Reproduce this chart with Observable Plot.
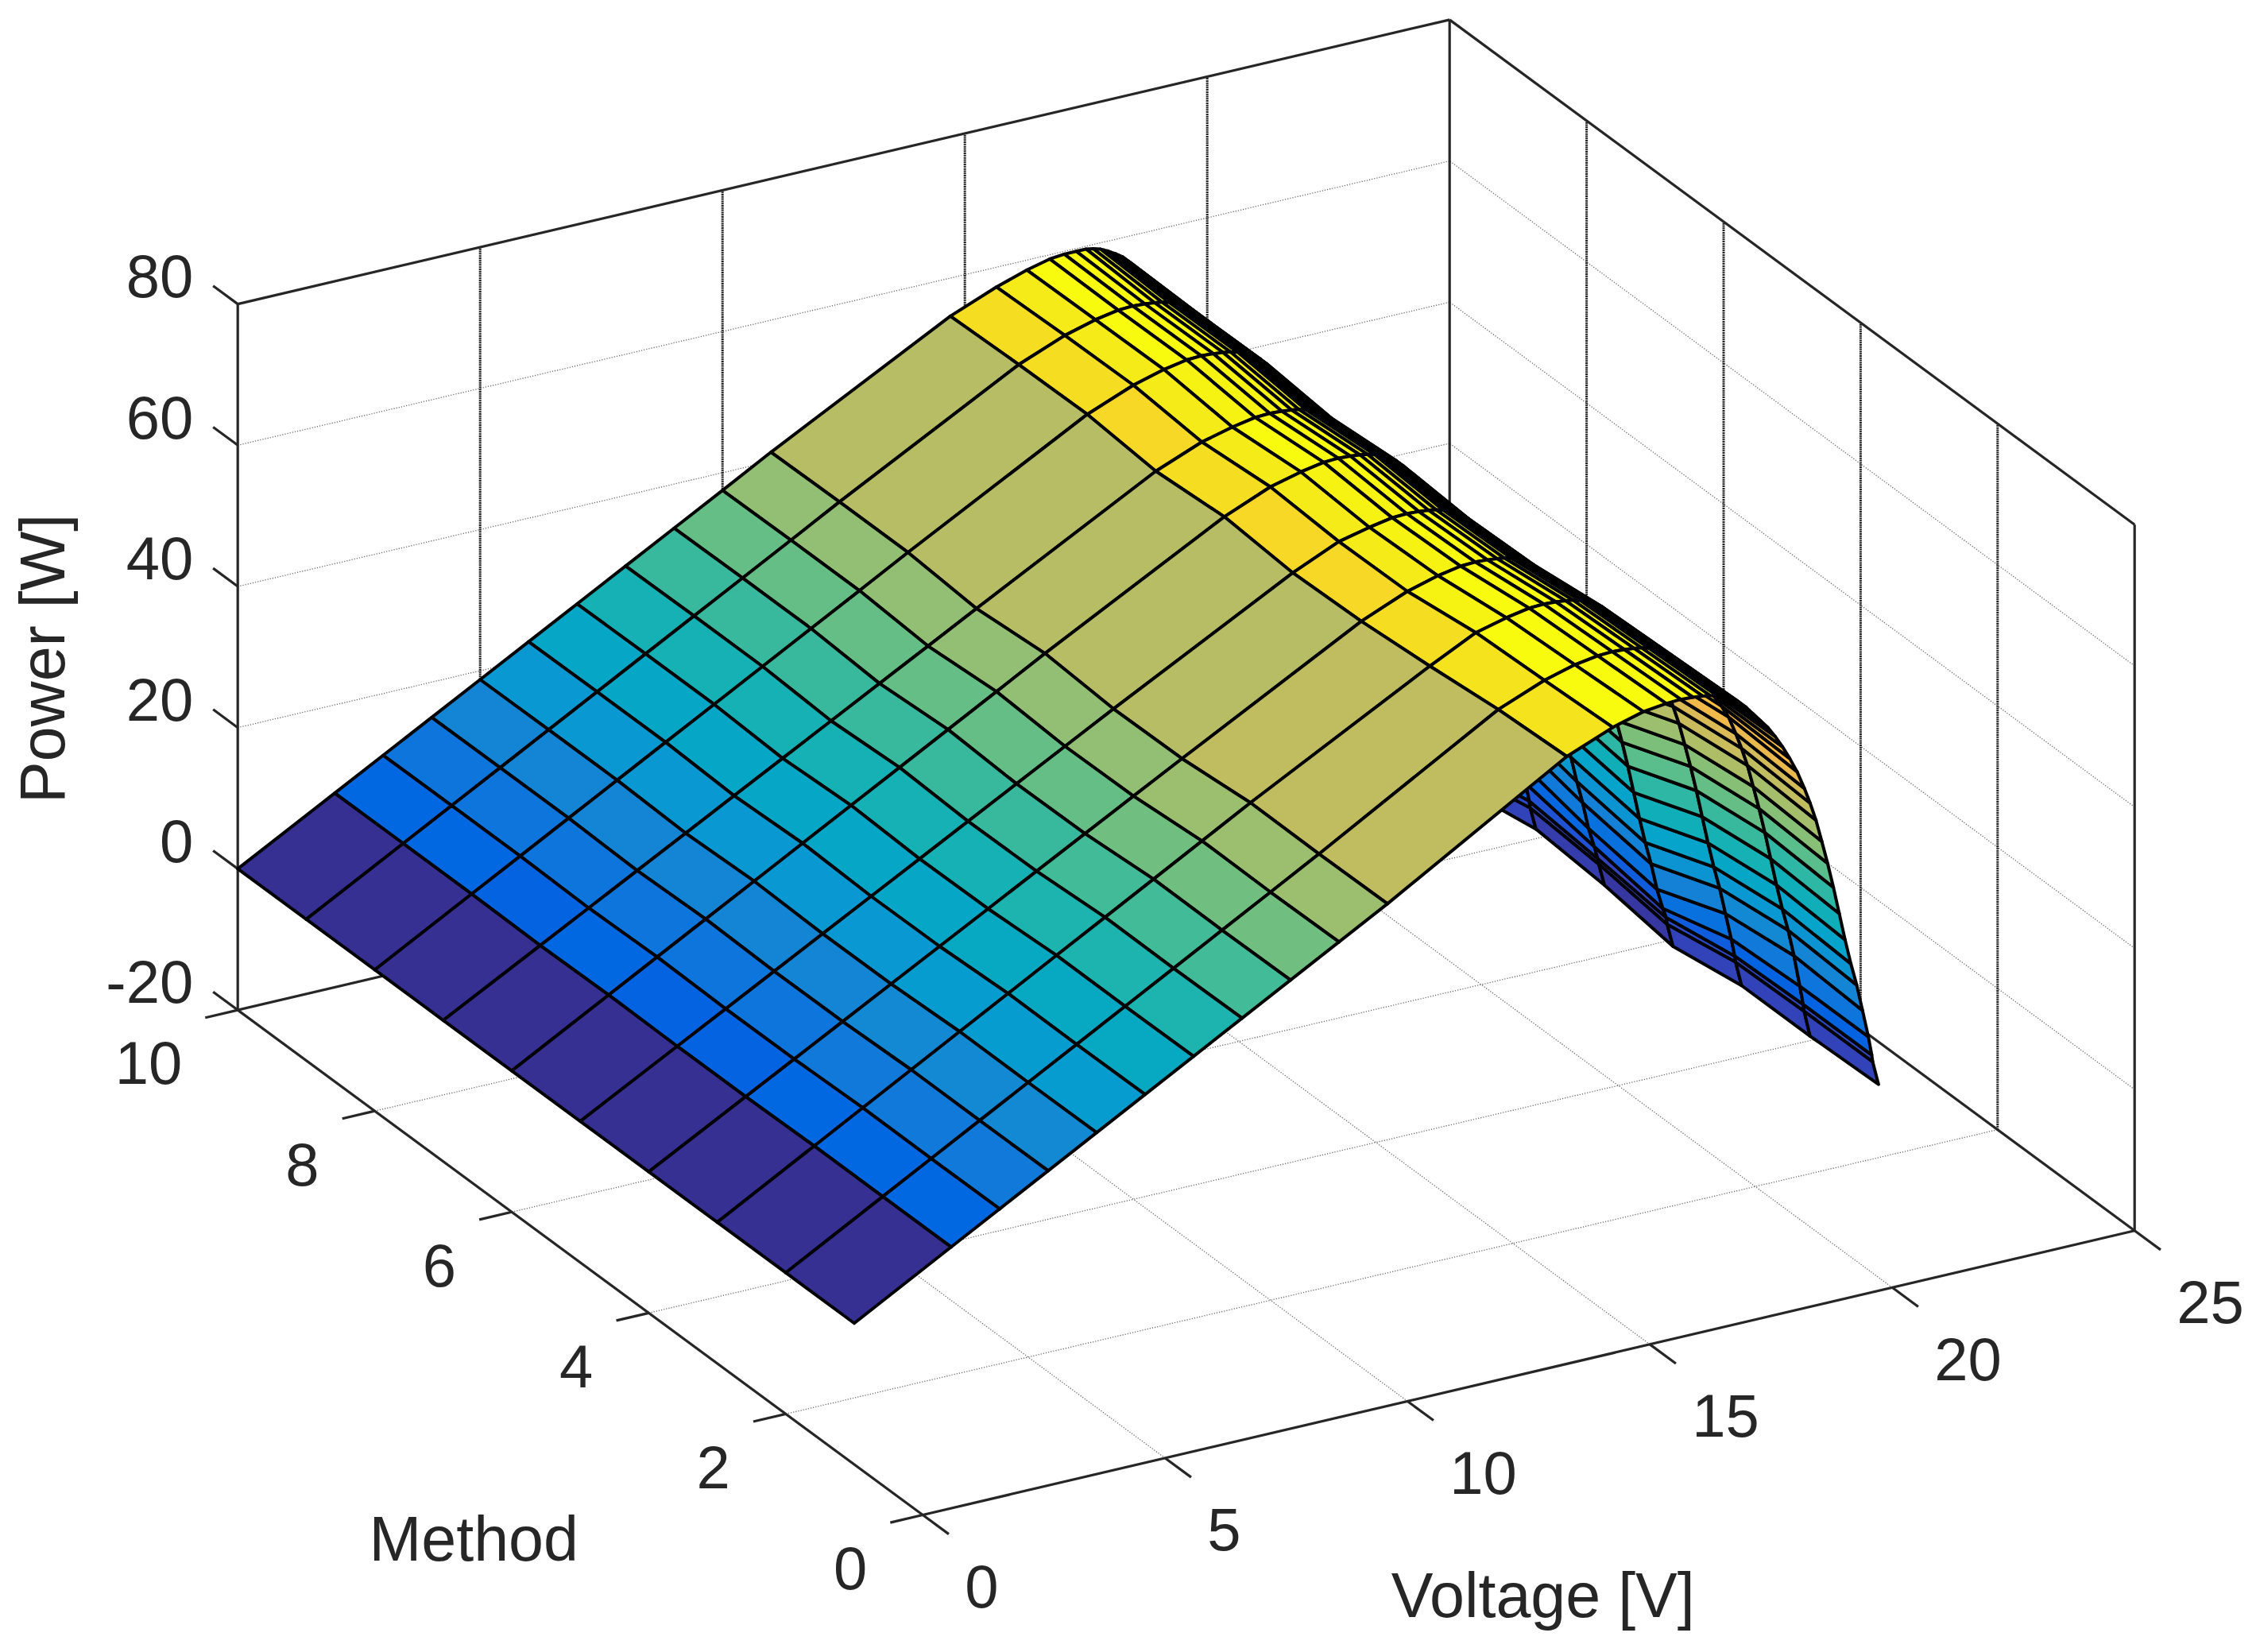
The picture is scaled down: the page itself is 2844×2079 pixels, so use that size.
<!DOCTYPE html>
<html><head><meta charset="utf-8">
<style>html,body{margin:0;padding:0;background:#fff}svg{display:block}</style>
<script src="https://cdn.jsdelivr.net/npm/d3@7"></script>
<script src="https://cdn.jsdelivr.net/npm/@observablehq/plot@0.6"></script>
</head><body><div id="chart"></div>
<script>
const voltages = [0,2,3,4,5,6,7,8,9,10,11,14.7,15.65,16.28,16.75,17.05,17.3,17.5,17.65,17.8,17.87,17.95,18.02,18.1,18.17,18.25,18.32,18.4,18.47,18.55,18.7,18.85,19,19.15,19.3,19.45,19.6,19.72,19.84,19.96,20.08,20.2,20.32,20.44,20.56,20.68,20.8,20.92,20.99,21.01,21.13];
const methods = [1,2,3,4,5,6,7,8,9,10];
const power1 = [0,7.58,11.37,15.16,18.95,22.74,26.53,30.32,34.11,37.9,41.7,56.6,59.2,60.4,60.8,60.9,60.8,60.65,60.5,60.2,60,59.8,59.55,59.3,58.95,58.6,58.1,57.6,57,56.4,55.2,54,52.5,50.8,48.9,46.8,44.2,41.9,39.3,36.1,32.8,29.2,25.3,21.4,17.8,14.6,10.8,6.9,4.2,3.2,-0.2];
const power2 = [0,7.56,11.34,15.12,18.9,22.68,26.46,30.24,34.02,37.8,41.6,56.1,58.7,59.9,60.4,60.5,60.4,60.25,60.1,59.8,59.6,59.4,59.15,58.9,58.55,58.2,57.7,57.2,56.6,56,54.8,53.6,52.3,50.8,49.2,47.4,44.8,42.5,39.9,36.7,33.4,29.8,25.9,22,18.4,15.2,11.4,6.9,4.2,3.2,-0.5];
const power3 = [0,7.58,11.37,15.16,18.95,22.74,26.53,30.32,34.11,37.9,41.7,55.1,58.3,59.4,60,60.1,60,59.85,59.7,59.4,59.2,59,58.75,58.5,58.15,57.8,57.3,56.8,56.2,55.6,54.4,53.2,51.8,50.1,48.3,46.2,43.6,41.3,38.7,35.5,32.2,28.6,24.7,20.8,17.2,14,10.2,6.4,3.9,3,-0.5];
const power4 = [0,7.42,11.13,14.84,18.55,22.26,25.97,29.68,33.39,37.1,40.8,54.3,57,58.2,58.8,58.9,58.8,58.65,58.5,58.2,58,57.8,57.55,57.3,56.95,56.6,56.1,55.6,55,54.4,53.2,52,50,47.9,45.7,42.5,39.9,37.6,35,31.8,28.5,24.9,21,17.1,13.5,10.3,6.5,3.6,2.2,1.2,-2.1];
const power5 = [0,7.4,11.1,14.8,18.5,22.2,25.9,29.6,33.3,37,40.7,54,56.9,57.9,58.5,58.6,58.5,58.35,58.2,57.9,57.7,57.5,57.25,57,56.65,56.3,55.8,55.3,54.7,54.1,52.9,51.7,50.1,48.3,46.3,44,41.4,39.1,36.5,33.3,30,26.4,22.5,18.6,15,11.8,8,5.2,3.4,2.6,-0.6];
const power6 = [0,7.52,11.28,15.04,18.8,22.56,26.32,30.08,33.84,37.6,41.4,54.8,57.5,58.6,59.2,59.3,59.2,59.05,58.9,58.6,58.4,58.2,57.95,57.7,57.35,57,56.5,56,55.4,54.8,53.6,52.4,51.1,49.6,48,46.3,43.7,41.4,38.8,35.6,32.3,28.7,24.8,20.9,17.3,14.1,10.3,7,4.4,3.4,0.2];
const power7 = [0,7.38,11.07,14.76,18.45,22.14,25.83,29.52,33.21,36.9,40.6,54.1,56.7,57.8,58.4,58.5,58.4,58.25,58.1,57.8,57.6,57.4,57.15,56.9,56.55,56.2,55.7,55.2,54.6,54,52.8,51.6,49.8,47.9,45.6,42.8,40.2,37.9,35.3,32.1,28.8,25.2,21.3,17.4,13.8,10.6,6.8,4,2.4,1.4,-1.5];
const power8 = [0,7.52,11.28,15.04,18.8,22.56,26.32,30.08,33.84,37.6,41.4,55,57.6,58.8,59.4,59.5,59.4,59.25,59.1,58.8,58.6,58.4,58.15,57.9,57.55,57.2,56.7,56.2,55.6,55,53.8,52.6,51.2,49.6,47.9,45.8,43.2,40.9,38.3,35.1,31.8,28.2,24.3,20.4,16.8,13.6,9.8,6,3.8,2.8,-0.2];
const power9 = [0,7.52,11.28,15.04,18.8,22.56,26.32,30.08,33.84,37.6,41.4,54.9,57.5,58.7,59.3,59.4,59.3,59.15,59,58.7,58.5,58.3,58.05,57.8,57.45,57.1,56.6,56.1,55.5,54.9,53.7,52.5,51.1,49.5,47.9,45.8,43.2,40.9,38.3,35.1,31.8,28.2,24.3,20.4,16.8,13.6,9.8,6,3.8,2.8,-0.2];
const power10 = [0,7.5,11.25,15,18.75,22.5,26.25,30,33.75,37.5,41.3,54.6,57.2,58.6,59.4,59.6,59.6,59.6,59.4,59.1,58.85,58.6,58.3,58,57.65,57.3,56.8,56.3,55.7,55.1,53.9,52.7,51.2,49.5,47.5,45.3,42.7,40.4,37.8,34.6,31.3,27.7,23.8,19.9,16.3,13.1,9.3,5.6,3.6,2.6,-0.3];
const powerRows = [power1,power2,power3,power4,power5,power6,power7,power8,power9,power10];
const voltageTicks = [0,5,10,15,20,25];
const methodTicks = [0,2,4,6,8,10];
const powerTicks = [-20,0,20,40,60,80];
const parula = [[.2081,.1663,.5292],[.2116,.1898,.5777],[.2123,.2138,.627],[.2081,.2386,.6771],[.1959,.2645,.7279],[.1707,.2919,.7792],[.1253,.3242,.8303],[.0591,.3598,.8683],[.0117,.3875,.882],[.006,.4086,.8828],[.0165,.4266,.8786],[.0329,.443,.872],[.0498,.4586,.8641],[.0629,.4737,.8554],[.0723,.4887,.8467],[.0779,.504,.8384],[.0793,.52,.8312],[.0749,.5375,.8263],[.0641,.557,.824],[.0488,.5772,.8228],[.0343,.5966,.8199],[.0265,.6137,.8135],[.0239,.6287,.8038],[.0231,.6418,.7913],[.0228,.6535,.7768],[.0267,.6642,.7607],[.0384,.6743,.7436],[.059,.6838,.7254],[.0843,.6928,.7062],[.1133,.7015,.6859],[.1453,.7098,.6646],[.1801,.7177,.6424],[.2178,.725,.6193],[.2586,.7317,.5954],[.3022,.7376,.5712],[.3482,.7424,.5473],[.3953,.7459,.5244],[.442,.7481,.5033],[.4871,.7491,.484],[.53,.7491,.4661],[.5709,.7485,.4494],[.6099,.7473,.4337],[.6473,.7456,.4188],[.6834,.7435,.4044],[.7184,.7411,.3905],[.7525,.7384,.3768],[.7858,.7356,.3633],[.8185,.7327,.3498],[.8507,.7299,.336],[.8824,.7274,.3217],[.9139,.7258,.3063],[.945,.7261,.2886],[.9739,.7314,.2666],[.9938,.7455,.2403],[.999,.7653,.2164],[.9955,.7861,.1967],[.988,.8066,.1794],[.9789,.8271,.1633],[.9697,.8481,.1475],[.9626,.8705,.1309],[.9589,.8949,.1132],[.9598,.9218,.0948],[.9661,.9514,.0755],[.9763,.9831,.0538]];

// orthographic view of the MATLAB axes
const view = {ox:1160.7, oy:1906, vx:61.0, vy:-14.31, mx:-86.2, my:-63.54, zy:-8.885, zBase:-20};
const px = (v,m) => view.ox + view.vx*v + view.mx*m;
const py = (v,m,z) => view.oy + view.vy*v + view.my*m + view.zy*(z-view.zBase);

// far-to-near painter's order
const cellPoints = [];
let cellId = 0;
for (let i = methods.length-2; i >= 0; --i) {
  for (let j = voltages.length-2; j >= 0; --j) {
    const corners = [[i,j],[i,j+1],[i+1,j+1],[i+1,j],[i,j]];
    for (const [a,b] of corners) {
      cellPoints.push({id:cellId, level:powerRows[i][j], x:px(voltages[b],methods[a]), y:py(voltages[b],methods[a],powerRows[a][b])});
    }
    cellId++;
  }
}
const seg = (a,b) => ({x1:px(a[0],a[1]),y1:py(a[0],a[1],a[2]),x2:px(b[0],b[1]),y2:py(b[0],b[1],b[2])});

const gridFlat = [], gridVert = [];
for (const v of voltageTicks.slice(1,-1)) {
  gridFlat.push(seg([v,0,-20],[v,10,-20]));
  gridVert.push(seg([v,10,-20],[v,10,80]));
}
for (const m of methodTicks.slice(1,-1)) {
  gridFlat.push(seg([0,m,-20],[25,m,-20]));
  gridVert.push(seg([25,m,-20],[25,m,80]));
}
for (const z of powerTicks.slice(1,-1)) {
  gridFlat.push(seg([0,10,z],[25,10,z]));
  gridFlat.push(seg([25,0,z],[25,10,z]));
}
const box = [
  seg([0,0,-20],[25,0,-20]), seg([0,0,-20],[0,10,-20]),
  seg([0,10,-20],[25,10,-20]), seg([25,0,-20],[25,10,-20]),
  seg([0,10,-20],[0,10,80]), seg([25,0,-20],[25,0,80]), seg([25,10,-20],[25,10,80]),
  seg([0,10,80],[25,10,80]), seg([25,0,80],[25,10,80])
];
const tickLen = {v:-0.67, m:-0.38, z:0.36};
const ticks = [
  ...voltageTicks.map(v => seg([v,0,-20],[v,tickLen.m,-20])),
  ...methodTicks.map(m => seg([0,m,-20],[tickLen.v,m,-20])),
  ...powerTicks.map(z => seg([0,10,z],[0,10+tickLen.z,z]))
];
const textFont = {fontFamily:"'Liberation Sans', Arial, sans-serif", fill:"#262626"};
const axisColor = "#262626";

const chart = Plot.plot({
  width:2844, height:2079, margin:0,
  x:{domain:[0,2844], range:[0,2844], axis:null},
  y:{domain:[0,2079], range:[0,2079], axis:null},
  color:{type:"threshold", domain:d3.range(1,parula.length).map(k => -1 + 60.5*k/parula.length),
         range:parula.map(c => `rgb(${c.map(u => Math.round(u*255)).join(",")})`)},
  style:{background:"#fff", overflow:"visible"},
  marks:[
    Plot.link(gridFlat,{x1:"x1",y1:"y1",x2:"x2",y2:"y2",stroke:"#666",strokeWidth:1.3,strokeDasharray:"1.2 2"}),
    Plot.link(gridVert,{x1:"x1",y1:"y1",x2:"x2",y2:"y2",stroke:"#222",strokeWidth:3,strokeDasharray:"2 0.8"}),
    Plot.link(box,{x1:"x1",y1:"y1",x2:"x2",y2:"y2",stroke:axisColor,strokeWidth:3.2}),
    Plot.link(ticks,{x1:"x1",y1:"y1",x2:"x2",y2:"y2",stroke:axisColor,strokeWidth:3.2}),
    Plot.line(cellPoints,{x:"x",y:"y",z:"id",fill:"level",stroke:"#000",strokeWidth:4,strokeLinejoin:"round",curve:"linear"}),
    Plot.text(powerTicks,{x:()=>px(0,10),y:z=>py(0,10,z),text:z=>String(z),textAnchor:"end",dx:-56,dy:-33,fontSize:76,...textFont}),
    Plot.text(methodTicks,{x:m=>px(0,m),y:m=>py(0,m,-20),text:m=>String(m),textAnchor:"end",dx:-70,dy:69,fontSize:76,...textFont}),
    Plot.text(voltageTicks,{x:v=>px(v,0),y:v=>py(v,0,-20),text:v=>String(v),textAnchor:"start",dx:53,dy:92,fontSize:76,...textFont}),
    Plot.text(["Power [W]"],{x:()=>px(0,10),y:()=>py(0,10,30),text:d=>d,rotate:-90,dx:-243,dy:2,fontSize:79,...textFont}),
    Plot.text(["Method"],{x:()=>px(0,5),y:()=>py(0,5,-20),text:d=>d,dx:-134,dy:350,fontSize:79,...textFont}),
    Plot.text(["Voltage [V]"],{x:()=>px(12.5,0),y:()=>py(12.5,0,-20),text:d=>d,dx:18,dy:282,fontSize:79,...textFont})
  ]
});
document.getElementById("chart").appendChild(chart);
</script></body></html>
